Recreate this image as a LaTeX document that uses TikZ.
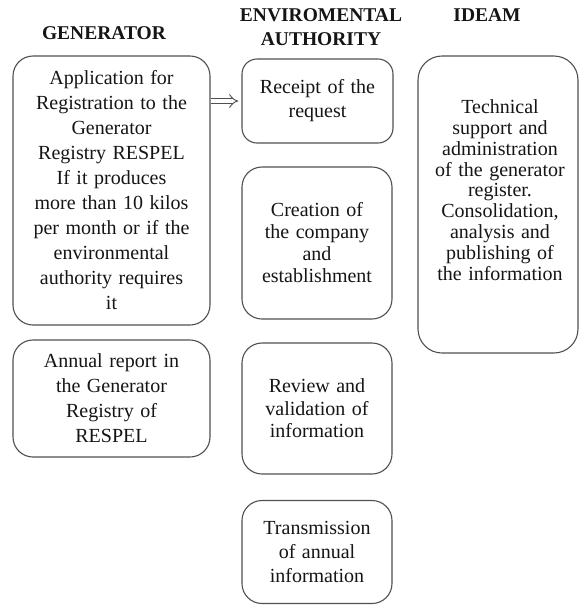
\documentclass[tikz,border=0pt]{standalone}
\usepackage{fontspec}
\setmainfont{Liberation Serif}[WordSpace={1.3,0.5,0.3}]
\usetikzlibrary{arrows.meta}
\definecolor{edge}{HTML}{505050}
\definecolor{ink}{HTML}{151515}
\begin{document}
\begin{tikzpicture}[x=1pt,y=-1pt,
  box/.style={draw=edge, line width=1.1pt, rounded corners=20pt, align=center,
    inner sep=0pt, text=ink, font=\fontsize{20}{24}\selectfont},
  plain/.style={align=center, inner sep=0pt, text=ink},
  head/.style={font=\fontsize{19.5}{24}\selectfont\bfseries, align=center, text=ink, inner sep=0pt}]
\useasboundingbox (0,0) rectangle (579,606);
\fill[white] (0,0) rectangle (579,606);

% headings
\node[head] (hgen) at (104,33) {GENERATOR};
\node[head] (henv) at (321,27) {ENVIROMENTAL\\AUTHORITY};
\node[head] (hideam) at (487,15) {IDEAM};

% generator column
\node[box, minimum width=197, minimum height=269, font=\fontsize{20}{25}\selectfont] (gen1) at (111.5,190.5)
  {Application for\\Registration to the\\Generator\\Registry RESPEL\\If it produces\\more than 10 kilos\\per month or if the\\environmental\\authority requires\\it};
\node[box, minimum width=197, minimum height=117, font=\fontsize{20}{25}\selectfont] (gen2) at (111.5,398.5)
  {Annual report in\\the Generator\\Registry of\\RESPEL};

% environmental authority column
\node[box, rounded corners=15pt, minimum width=151, minimum height=84] (receipt) at (317.5,101)
  {Receipt of the\\request};
\node[box, minimum width=150, minimum height=152, font=\fontsize{20}{22}\selectfont] (creation) at (317,243)
  {Creation of\\the company\\and\\establishment};
\node[box, minimum width=150, minimum height=131, font=\fontsize{20}{22.5}\selectfont] (review) at (317,408.5)
  {Review and\\validation of\\information};
\node[box, minimum width=150, minimum height=103] (trans) at (317,552)
  {Transmission\\of annual\\information};

% IDEAM column
\node[box, rounded corners=24pt, minimum width=160, minimum height=297] (ideam) at (498,204.5) {};
\node[plain, font=\fontsize{20}{20.8}\selectfont] (ideamtext) at (500,190)
  {Technical\\support and\\administration\\of the generator\\register.\\Consolidation,\\analysis and\\publishing of\\the information};

% arrow
\draw[edge, line width=0.9pt, double=white, double distance=4pt, -{Implies[scale=1.3]}, shorten >=3pt]
  (gen1.east |- receipt.west) -- (receipt.west);
\end{tikzpicture}
\end{document}
